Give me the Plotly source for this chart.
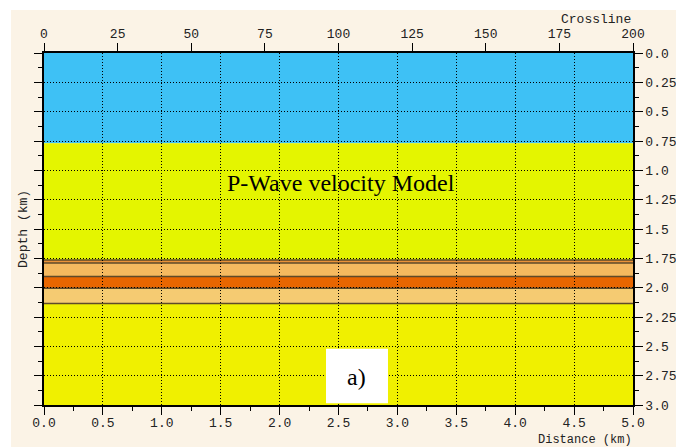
import plotly.graph_objects as go

# ---- data ----
layer_top = [0.0, 0.77, 1.765, 1.79, 1.905, 2.005, 2.135]
layer_bottom = [0.77, 1.765, 1.79, 1.905, 2.005, 2.135, 3.0]
layer_color = ["#3EC1F5", "#E4F500", "#EB9238", "#F5B95F", "#E86600", "#F5CB72", "#F0F000"]
boundary_depths = [1.765, 1.79, 1.905, 2.005, 2.135]

dist_range = [0.0, 5.0]
crossline_range = [0, 200]
depth_range = [0.0, 3.0]
dist_ticks = [0.0, 0.5, 1.0, 1.5, 2.0, 2.5, 3.0, 3.5, 4.0, 4.5, 5.0]
dist_labels = ["0.0", "0.5", "1.0", "1.5", "2.0", "2.5", "3.0", "3.5", "4.0", "4.5", "5.0"]
depth_ticks = [0.0, 0.25, 0.5, 0.75, 1.0, 1.25, 1.5, 1.75, 2.0, 2.25, 2.5, 2.75, 3.0]
depth_labels = ["0.0", "0.25", "0.5", "0.75", "1.0", "1.25", "1.5", "1.75", "2.0", "2.25", "2.5", "2.75", "3.0"]
crossline_ticks = [0, 25, 50, 75, 100, 125, 150, 175, 200]

mono = "Liberation Mono"
serif = "Liberation Serif"
txt_col = "#222"

fig = go.Figure()
# invisible traces to anchor the axes
fig.add_trace(go.Scatter(x=dist_range, y=depth_range, mode="markers",
                         marker=dict(opacity=0), hoverinfo="skip", showlegend=False))
fig.add_trace(go.Scatter(x=crossline_range, y=depth_range, xaxis="x2", yaxis="y2", mode="markers",
                         marker=dict(opacity=0), hoverinfo="skip", showlegend=False))

shapes = []
# beige page background (white border at top/left)
shapes.append(dict(type="rect", xref="paper", yref="paper", x0=-0.056, x1=1.08, y0=-0.13, y1=1.122,
                   fillcolor="#FBF3E6", line=dict(width=0), layer="below"))
for t, b, c in zip(layer_top, layer_bottom, layer_color):
    shapes.append(dict(type="rect", xref="x", yref="y", x0=dist_range[0], x1=dist_range[1], y0=t, y1=b,
                       fillcolor=c, line=dict(width=0), layer="below"))
for d in boundary_depths:
    shapes.append(dict(type="line", xref="x", yref="y", x0=dist_range[0], x1=dist_range[1], y0=d, y1=d,
                       line=dict(color="#5E4A2A", width=1.5), layer="below"))
# white label box
shapes.append(dict(type="rect", xref="x", yref="y", x0=2.394, x1=2.92, y0=2.52, y1=2.985,
                   fillcolor="white", line=dict(width=0), layer="above"))

axis_common = dict(showline=True, linecolor="black", linewidth=1.5, ticks="outside",
                   tickcolor="black", tickwidth=1, zeroline=False, automargin=False,
                   tickfont=dict(family=mono, size=13, color=txt_col))
grid_dash = "1px,2px"

fig.update_layout(
    width=676, height=447,
    margin=dict(l=44, r=43, t=53, b=42),
    paper_bgcolor="white", plot_bgcolor="rgba(0,0,0,0)",
    showlegend=False,
    shapes=shapes,
    xaxis=dict(range=dist_range, tickvals=dist_ticks, ticktext=dist_labels, ticklen=8,
               ticklabelstandoff=-3,
               showgrid=True, gridcolor="black", gridwidth=1, griddash=grid_dash,
               minor=dict(dtick=0.25, ticklen=4, ticks="outside", tickcolor="black", showgrid=False),
               **axis_common),
    xaxis2=dict(range=crossline_range, overlaying="x", side="top", anchor="y", tickvals=crossline_ticks,
                ticklen=8, showgrid=False, **axis_common),
    yaxis=dict(range=depth_range[::-1], tickvals=depth_ticks, ticklen=8, showticklabels=False,
               showgrid=True, gridcolor="black", gridwidth=1, griddash=grid_dash,
               minor=dict(dtick=0.125, ticklen=4, ticks="outside", tickcolor="black", showgrid=False),
               **axis_common),
    yaxis2=dict(range=depth_range[::-1], overlaying="y", side="right", anchor="x", tickvals=depth_ticks,
                ticktext=depth_labels, ticklen=8, showgrid=False,
                minor=dict(dtick=0.125, ticklen=4, ticks="outside", tickcolor="black", showgrid=False),
                **axis_common),
    annotations=[
        dict(text="P-Wave velocity Model", xref="x", yref="y", x=2.525, y=1.11, showarrow=False,
             font=dict(family=serif, size=24, color="black")),
        dict(text="a)", xref="x", yref="y", x=2.655, y=2.76, showarrow=False,
             font=dict(family=serif, size=24, color="black")),
        dict(text="Depth (km)", xref="paper", yref="paper", x=-0.0357, y=0.5, textangle=-90,
             xanchor="center", yanchor="middle", showarrow=False,
             font=dict(family=mono, size=13, color=txt_col)),
        dict(text="Crossline", xref="paper", yref="paper", x=1.0, y=1.0, yshift=34, xanchor="right",
             yanchor="middle", showarrow=False, font=dict(family=mono, size=13, color=txt_col)),
        dict(text="Distance (km)", xref="paper", yref="paper", x=1.0, y=0.0, yshift=-35, xanchor="right",
             yanchor="middle", showarrow=False, borderpad=0,
             font=dict(family=mono, size=12, color=txt_col)),
    ],
)

fig.write_html("out.html")
